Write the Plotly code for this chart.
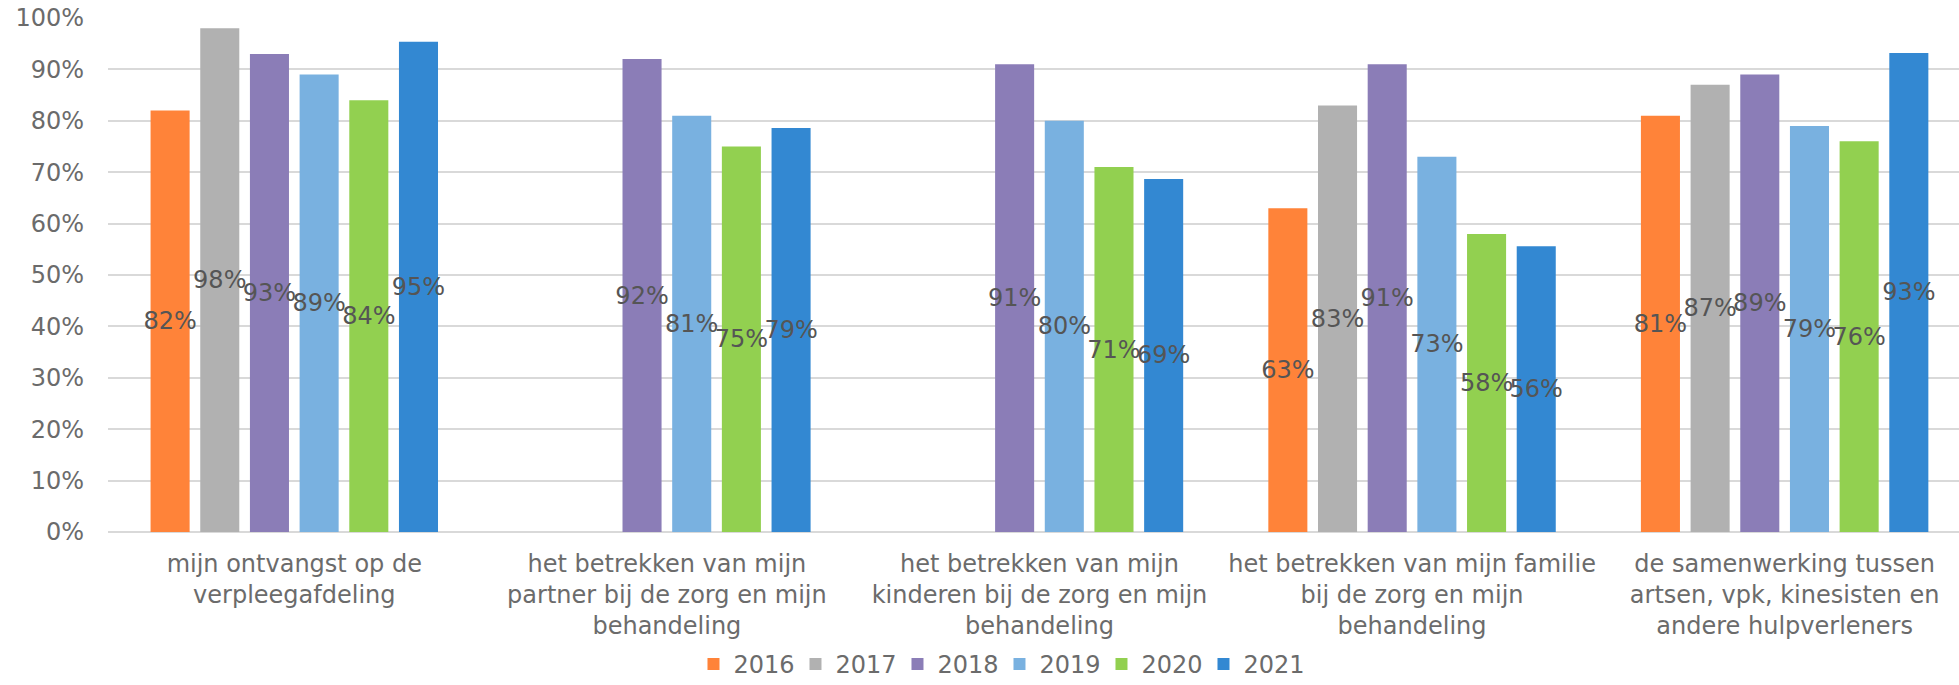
import plotly.graph_objects as go

categories = [
    "mijn ontvangst op de<br>verpleegafdeling",
    "het betrekken van mijn<br>partner bij de zorg en mijn<br>behandeling",
    "het betrekken van mijn<br>kinderen bij de zorg en mijn<br>behandeling",
    "het betrekken van mijn familie<br>bij de zorg en mijn<br>behandeling",
    "de samenwerking tussen<br>artsen, vpk, kinesisten en<br>andere hulpverleners",
]

years = ["2016", "2017", "2018", "2019", "2020", "2021"]

v2016 = [0.82, None, None, 0.63, 0.81]
v2017 = [0.98, None, None, 0.83, 0.87]
v2018 = [0.93, 0.92, 0.91, 0.91, 0.89]
v2019 = [0.89, 0.81, 0.80, 0.73, 0.79]
v2020 = [0.84, 0.75, 0.71, 0.58, 0.76]
v2021 = [0.954, 0.786, 0.687, 0.556, 0.932]

series = [v2016, v2017, v2018, v2019, v2020, v2021]
colors = ["#FF8339", "#B1B1B1", "#8B7DB7", "#79B1E0", "#92D050", "#3388D2"]

FONT = "DejaVu Sans, Verdana, sans-serif"

fig = go.Figure()
for year, vals, col in zip(years, series, colors):
    fig.add_trace(go.Bar(
        x=categories, y=vals, name=year,
        marker=dict(color=col, line=dict(width=0)),
        texttemplate="%{y:.0%}",
        textposition="inside",
        insidetextanchor="middle",
        constraintext="none",
        textangle=0,
        insidetextfont=dict(family=FONT, size=24, color="#555555"),
    ))

fig.update_layout(
    width=1959, height=685,
    margin=dict(l=108, r=0, t=18, b=153),
    plot_bgcolor="white", paper_bgcolor="white",
    font=dict(family=FONT, size=24, color="#6B6B6B"),
    barmode="group", bargap=0.2, bargroupgap=0.214,
    showlegend=True,
    legend=dict(
        orientation="h", xref="container", yref="container",
        x=0.354, xanchor="left", y=0.03, yanchor="middle",
        font=dict(size=24, color="#6B6B6B"),
        traceorder="normal",
        entrywidth=57, entrywidthmode="pixels",
    ),
)
fig.update_xaxes(
    type="category", range=[-0.5, 4.468],
    showgrid=False, showline=False, ticks="",
    ticklabelstandoff=15,
)
fig.update_yaxes(
    range=[0, 1], dtick=0.1, tickformat=".0%",
    showgrid=True, gridcolor="#D9D9D9", gridwidth=2,
    zeroline=True, zerolinecolor="#D9D9D9", zerolinewidth=2,
    showline=False, ticks="", ticklabelstandoff=23,
)

# drop the default 8px body margin so the figure fills the window exactly
fig.write_html(
    "out.html",
    config={"displayModeBar": False},
    post_script="document.body.style.margin='0';",
)
